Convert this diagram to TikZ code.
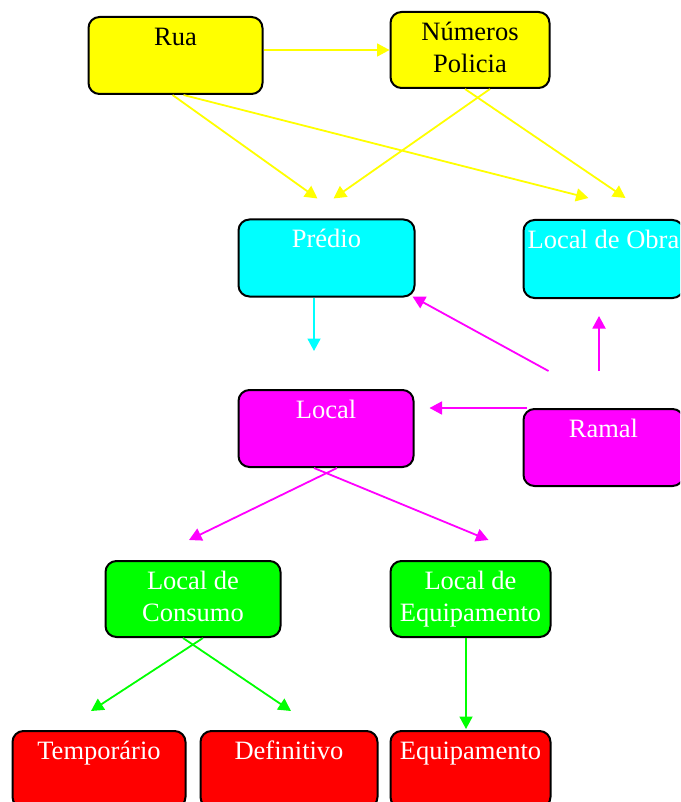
\documentclass[tikz,border=0pt]{standalone}
\usepackage{fontspec}
\setmainfont{Liberation Serif}
\usetikzlibrary{arrows.meta,calc}
\definecolor{cYel}{RGB}{255,255,0}
\definecolor{cCya}{RGB}{0,255,255}
\definecolor{cMag}{RGB}{255,0,255}
\definecolor{cGre}{RGB}{0,255,0}
\definecolor{cRed}{RGB}{255,0,0}
\tikzset{
  box/.style={draw=black, line width=2pt, rounded corners=11pt, anchor=north west, inner sep=0pt},
  txt/.style={anchor=north, inner sep=0pt, align=center, font=\fontsize{26.5}{32}\selectfont},
  conn/.style={line width=1.8pt, -{Triangle[length=12.5pt,width=13pt]}},
}
\begin{document}
\begin{tikzpicture}[x=1pt,y=-1pt]
\clip (0,0) rectangle (680,802);
\fill[white] (0,0) rectangle (680,802);
% boxes
\node[box, fill=cYel, minimum width=174pt, minimum height=77pt] (rua) at (87.5,16) {};
\node[box, fill=cYel, minimum width=159pt, minimum height=76pt] (num) at (389.5,11) {};
\node[box, fill=cCya, minimum width=176pt, minimum height=77pt] (prd) at (237.5,218.5) {};
\node[box, fill=cCya, minimum width=160pt, minimum height=78pt] (ldo) at (522.5,219) {};
\node[box, fill=cMag, minimum width=175pt, minimum height=77pt] (loc) at (237.5,389) {};
\node[box, fill=cMag, minimum width=160pt, minimum height=77pt] (ram) at (522.5,408) {};
\node[box, fill=cGre, minimum width=175pt, minimum height=76pt] (ldc) at (104.5,560) {};
\node[box, fill=cGre, minimum width=160pt, minimum height=76pt] (lde) at (389.5,560) {};
\node[box, fill=cRed, minimum width=173pt, minimum height=77pt] (tmp) at (11.5,730) {};
\node[box, fill=cRed, minimum width=177pt, minimum height=77pt] (def) at (199.5,730) {};
\node[box, fill=cRed, minimum width=160pt, minimum height=77pt] (eqp) at (389.5,730) {};
% texts
\node[txt, text=black] (rua-t) at ($(rua.north)+(0,6.6)$) {\strut Rua};
\node[txt, text=black] (num-t) at ($(num.north)+(0,6.6)$) {\strut Números\\\strut Policia};
\node[txt, text=white] (prd-t) at ($(prd.north)+(0,6.6)$) {\strut Prédio};
\node[txt, text=white] (ldo-t) at ($(ldo.north)+(0,6.6)$) {\strut Local de Obra};
\node[txt, text=white] (loc-t) at ($(loc.north)+(0,6.6)$) {\strut Local};
\node[txt, text=white] (ram-t) at ($(ram.north)+(0,6.6)$) {\strut Ramal};
\node[txt, text=white] (ldc-t) at ($(ldc.north)+(0,6.6)$) {\strut Local de\\\strut Consumo};
\node[txt, text=white] (lde-t) at ($(lde.north)+(0,6.6)$) {\strut Local de\\\strut Equipamento};
\node[txt, text=white] (tmp-t) at ($(tmp.north)+(0,6.6)$) {\strut Temporário};
\node[txt, text=white] (def-t) at ($(def.north)+(0,6.6)$) {\strut Definitivo};
\node[txt, text=white] (eqp-t) at ($(eqp.north)+(0,6.6)$) {\strut Equipamento};
% yellow connectors
\draw[conn, cYel] (num.west -| rua.east) -- (num.west);
\draw[conn, cYel] ($(rua.south)+(-3,0)$) -- ($(prd.north)+(-9,-20)$);
\draw[conn, cYel] ($(rua.south)+(8,0)$) -- ($(ldo.north)+(-15,-21)$);
\draw[conn, cYel] ($(num.south)+(20,0)$) -- ($(prd.north)+(7,-20)$);
\draw[conn, cYel] ($(num.south)+(-5,0)$) -- ($(ldo.north)+(22,-21)$);
% cyan connector
\coordinate (loc-in) at ($(loc.north)+(-12,-38)$);
\draw[conn, cCya] (prd.south -| loc-in) -- (loc-in);
% magenta connectors
\draw[conn, cMag] ($(ram.north)+(-55,-37)$) -- ($(prd.south east)+(-3,-1)$);
\draw[conn, cMag] ($(ram.north)+(-4.5,-37)$) -- ($(ldo.south)+(-4.5,17)$);
\draw[conn, cMag] ($(ram.north west)+(4,0)$) -- ($(loc.north east)+(15,19)$);
\draw[conn, cMag] ($(loc.south)+(11,0)$) -- ($(ldc.north)+(-4,-20)$);
\draw[conn, cMag] ($(loc.south)+(-12,0)$) -- ($(lde.north)+(18,-20)$);
% green connectors
\draw[conn, cGre] ($(ldc.south)+(10,0)$) -- ($(tmp.north)+(-8,-19)$);
\draw[conn, cGre] ($(ldc.south)+(-10,0)$) -- ($(def.north)+(2,-19)$);
\draw[conn, cGre] ($(lde.south)+(-4.5,0)$) -- ($(eqp.north)+(-4.5,-1)$);
\end{tikzpicture}
\end{document}
